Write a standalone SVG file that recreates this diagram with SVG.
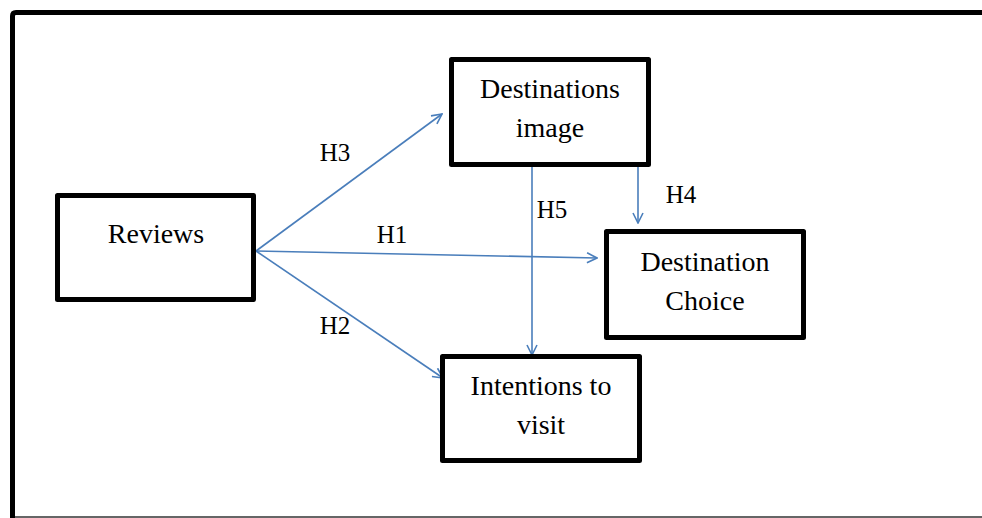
<svg xmlns="http://www.w3.org/2000/svg" width="982" height="518" viewBox="0 0 982 518">
<style>
.box{fill:#fff;stroke:#000;stroke-width:5;stroke-linejoin:round}
.t{font-family:'Liberation Serif',Tinos,'Times New Roman',Times,serif;font-size:28px;fill:#000;text-anchor:middle}
.h{font-family:'Liberation Serif',Tinos,'Times New Roman',Times,serif;font-size:25px;fill:#000;text-anchor:middle}
.c{stroke:#4a7ebb;stroke-width:1.6;fill:none;marker-end:url(#ah)}
</style>
<defs>
<marker id="ah" viewBox="0 0 12 12" refX="11" refY="6" markerWidth="12" markerHeight="12" markerUnits="userSpaceOnUse" orient="auto">
<path d="M1,1 L11,6 L1,11" fill="none" stroke="#4a7ebb" stroke-width="1.6"/>
</marker>
</defs>
<rect width="982" height="518" fill="#fff"/>
<path d="M12.5,518 L12.5,16 Q12.5,12.5 16,12.5 L990,12.5" fill="none" stroke="#000" stroke-width="5"/>
<line x1="15" y1="517" x2="982" y2="517" stroke="#666" stroke-width="2"/>
<g id="connectors">
<line class="c" x1="256" y1="251" x2="442" y2="114"/>
<line class="c" x1="256" y1="251" x2="597" y2="258"/>
<line class="c" x1="256" y1="251" x2="443" y2="378"/>
<line class="c" x1="532" y1="166" x2="532" y2="355"/>
<line class="c" x1="638" y1="166" x2="638" y2="223"/>
<text class="h" x="335" y="161">H3</text>
<text class="h" x="392" y="243">H1</text>
<text class="h" x="335" y="334">H2</text>
<text class="h" x="552" y="218">H5</text>
<text class="h" x="681" y="203">H4</text>
</g>
<g id="reviews">
<rect class="box" x="57.5" y="195.5" width="196" height="104"/>
<text class="t" x="156" y="243">Reviews</text>
</g>
<g id="destinations-image">
<rect class="box" x="451.5" y="59.5" width="197" height="105"/>
<text class="t" x="550" y="98">Destinations</text>
<text class="t" x="550" y="137">image</text>
</g>
<g id="destination-choice">
<rect class="box" x="606.5" y="231.5" width="197" height="106"/>
<text class="t" x="705" y="271">Destination</text>
<text class="t" x="705" y="310">Choice</text>
</g>
<g id="intentions">
<rect class="box" x="442.5" y="356.5" width="197" height="104"/>
<text class="t" x="541" y="395">Intentions to</text>
<text class="t" x="541" y="434">visit</text>
</g>
</svg>
